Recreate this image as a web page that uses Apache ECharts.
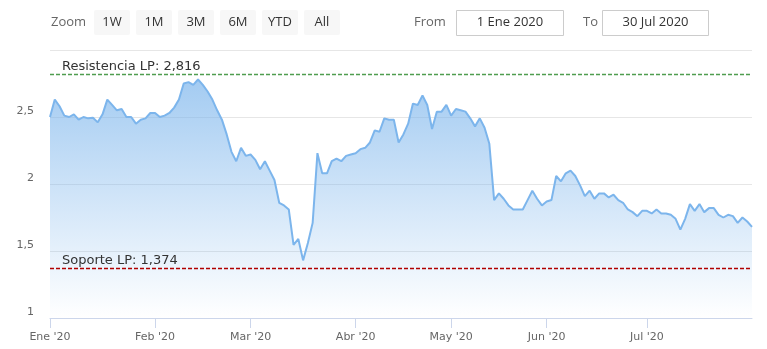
<!DOCTYPE html>
<html>
<head>
<meta charset="utf-8">
<script src="https://cdn.jsdelivr.net/npm/echarts/dist/echarts.min.js"></script>
<style>
html,body{margin:0;padding:0;background:#fff;}
#chart{width:767px;height:349px;}
</style>
</head>
<body>
<div id="chart"></div>
<script>
// ---- data ----
var monthLabels = ["Ene '20", "Feb '20", "Mar '20", "Abr '20", "May '20", "Jun '20", "Jul '20"];
var monthPoints = [22, 20, 22, 20, 20, 21, 23];
var prices = [
  2.50,2.63,2.58,2.51,2.50,2.52,2.48,2.50,2.49,2.495,
  2.46,2.52,2.63,2.59,2.55,2.56,2.50,2.50,2.45,2.48,
  2.49,2.53,2.53,2.50,2.51,2.53,2.57,2.63,2.75,2.76,
  2.74,2.78,2.74,2.69,2.63,2.55,2.48,2.37,2.24,2.17,
  2.27,2.21,2.22,2.18,2.11,2.17,2.10,2.03,1.86,1.84,
  1.81,1.545,1.59,1.43,1.56,1.71,2.23,2.08,2.08,2.17,
  2.19,2.17,2.21,2.22,2.23,2.26,2.27,2.31,2.40,2.39,
  2.49,2.48,2.48,2.31,2.37,2.45,2.60,2.59,2.66,2.59,
  2.41,2.54,2.54,2.59,2.51,2.56,2.55,2.54,2.49,2.43,
  2.49,2.42,2.30,1.88,1.93,1.89,1.84,1.81,1.81,1.81,
  1.88,1.95,1.89,1.84,1.87,1.88,2.06,2.02,2.08,2.10,
  2.06,1.99,1.91,1.95,1.89,1.93,1.93,1.90,1.92,1.88,
  1.86,1.81,1.79,1.76,1.80,1.80,1.78,1.81,1.78,1.78,
  1.77,1.74,1.66,1.74,1.85,1.80,1.85,1.79,1.82,1.82,
  1.77,1.75,1.77,1.76,1.71,1.75,1.72,1.68
];
var levelNames = ["Resistencia LP", "Soporte LP"];
var levelValues = [2.816, 1.374];
var yTicks = [1, 1.5, 2, 2.5, 3];
var zoomButtons = ["1W", "1M", "3M", "6M", "YTD", "All"];
var rangeFrom = "1 Ene 2020";
var rangeTo = "30 Jul 2020";

// ---- build categories ----
var categories = [];
for (var m = 0; m < monthLabels.length; m++) {
  for (var k = 0; k < monthPoints[m]; k++) {
    categories.push(monthLabels[m] + "#" + k);
  }
}
function isMonthStart(idx, val) {
  return String(categories[idx]).split("#")[1] === "0";
}
function fmtNum(v) { return String(v).replace(".", ","); }

// ---- toolbar graphics ----
var toolbar = [];
var UI_FONT = "'Open Sans', 'Noto Sans', sans-serif";
toolbar.push({type:'text', silent:true, x: 51, y: 22.5,
  style:{text:'Zoom', fill:'#666666', font:'13px ' + UI_FONT, align:'left', verticalAlign:'middle'}});
for (var b = 0; b < zoomButtons.length; b++) {
  var bx = 94 + b * 42;
  toolbar.push({type:'rect', silent:true, shape:{x:bx, y:10, width:36, height:25, r:2},
    style:{fill:'#f7f7f7'}});
  toolbar.push({type:'text', silent:true, x: bx + 18, y: 22.5,
    style:{text:zoomButtons[b], fill:'#333333', font:'13px ' + UI_FONT, align:'center', verticalAlign:'middle'}});
}
toolbar.push({type:'text', silent:true, x: 414, y: 22.5,
  style:{text:'From', fill:'#666666', font:'13px ' + UI_FONT, align:'left', verticalAlign:'middle'}});
toolbar.push({type:'rect', silent:true, shape:{x:456.5, y:10.5, width:107, height:25},
  style:{fill:'#ffffff', stroke:'#cccccc', lineWidth:1}});
toolbar.push({type:'text', silent:true, x: 510, y: 22.5,
  style:{text:rangeFrom, fill:'#333333', font:'13px ' + UI_FONT, align:'center', verticalAlign:'middle'}});
toolbar.push({type:'text', silent:true, x: 583, y: 22.5,
  style:{text:'To', fill:'#666666', font:'13px ' + UI_FONT, align:'left', verticalAlign:'middle'}});
toolbar.push({type:'rect', silent:true, shape:{x:602.5, y:10.5, width:106, height:25},
  style:{fill:'#ffffff', stroke:'#cccccc', lineWidth:1}});
toolbar.push({type:'text', silent:true, x: 655.5, y: 22.5,
  style:{text:rangeTo, fill:'#333333', font:'13px ' + UI_FONT, align:'center', verticalAlign:'middle'}});

var LBL_FONT = "'DejaVu Sans', Verdana, sans-serif";
var levelColors = ['#4f9d4f', '#b00000'];
var markData = levelValues.map(function (v, i) {
  return {
    yAxis: v,
    lineStyle: {color: levelColors[i], type: [4, 2], width: 1.3},
    label: {
      show: true,
      position: 'insideStartTop',
      distance: [12, 1],
      formatter: levelNames[i] + ': ' + fmtNum(v),
      color: '#333333',
      fontSize: 13,
      fontFamily: LBL_FONT
    }
  };
});

var chart = echarts.init(document.getElementById('chart'), null, {renderer: 'canvas'});
chart.setOption({
  animation: false,
  backgroundColor: '#ffffff',
  grid: {left: 50, right: 15, top: 50, bottom: 31, containLabel: false},
  graphic: toolbar,
  xAxis: {
    type: 'category',
    data: categories,
    boundaryGap: false,
    axisLine: {show: true, lineStyle: {color: '#ccd6eb', width: 1}},
    axisTick: {show: true, length: 10, interval: isMonthStart, lineStyle: {color: '#ccd6eb'}},
    axisLabel: {
      interval: isMonthStart,
      formatter: function (v) { return String(v).split('#')[0]; },
      color: '#666666', fontSize: 11, fontFamily: LBL_FONT, margin: 14
    },
    splitLine: {show: false}
  },
  yAxis: {
    type: 'value',
    min: yTicks[0],
    max: yTicks[yTicks.length - 1],
    interval: yTicks[1] - yTicks[0],
    axisLine: {show: false},
    axisTick: {show: false},
    axisLabel: {
      showMaxLabel: false,
      formatter: function (v) { return fmtNum(v); },
      color: '#666666', fontSize: 11, fontFamily: LBL_FONT, margin: 16,
      verticalAlign: 'bottom', lineHeight: 11
    },
    splitLine: {show: true, lineStyle: {color: '#e6e6e6', width: 1}}
  },
  series: [{
    type: 'line',
    data: prices,
    showSymbol: false,
    symbol: 'none',
    smooth: false,
    lineStyle: {color: '#7cb5ec', width: 2},
    itemStyle: {color: '#7cb5ec'},
    areaStyle: {
      color: new echarts.graphic.LinearGradient(0, 0, 0, 1, [
        {offset: 0, color: 'rgba(124,181,236,1)'},
        {offset: 1, color: 'rgba(124,181,236,0)'}
      ])
    },
    markLine: {
      silent: true,
      symbol: 'none',
      animation: false,
      data: markData
    }
  }]
});
</script>
</body>
</html>
